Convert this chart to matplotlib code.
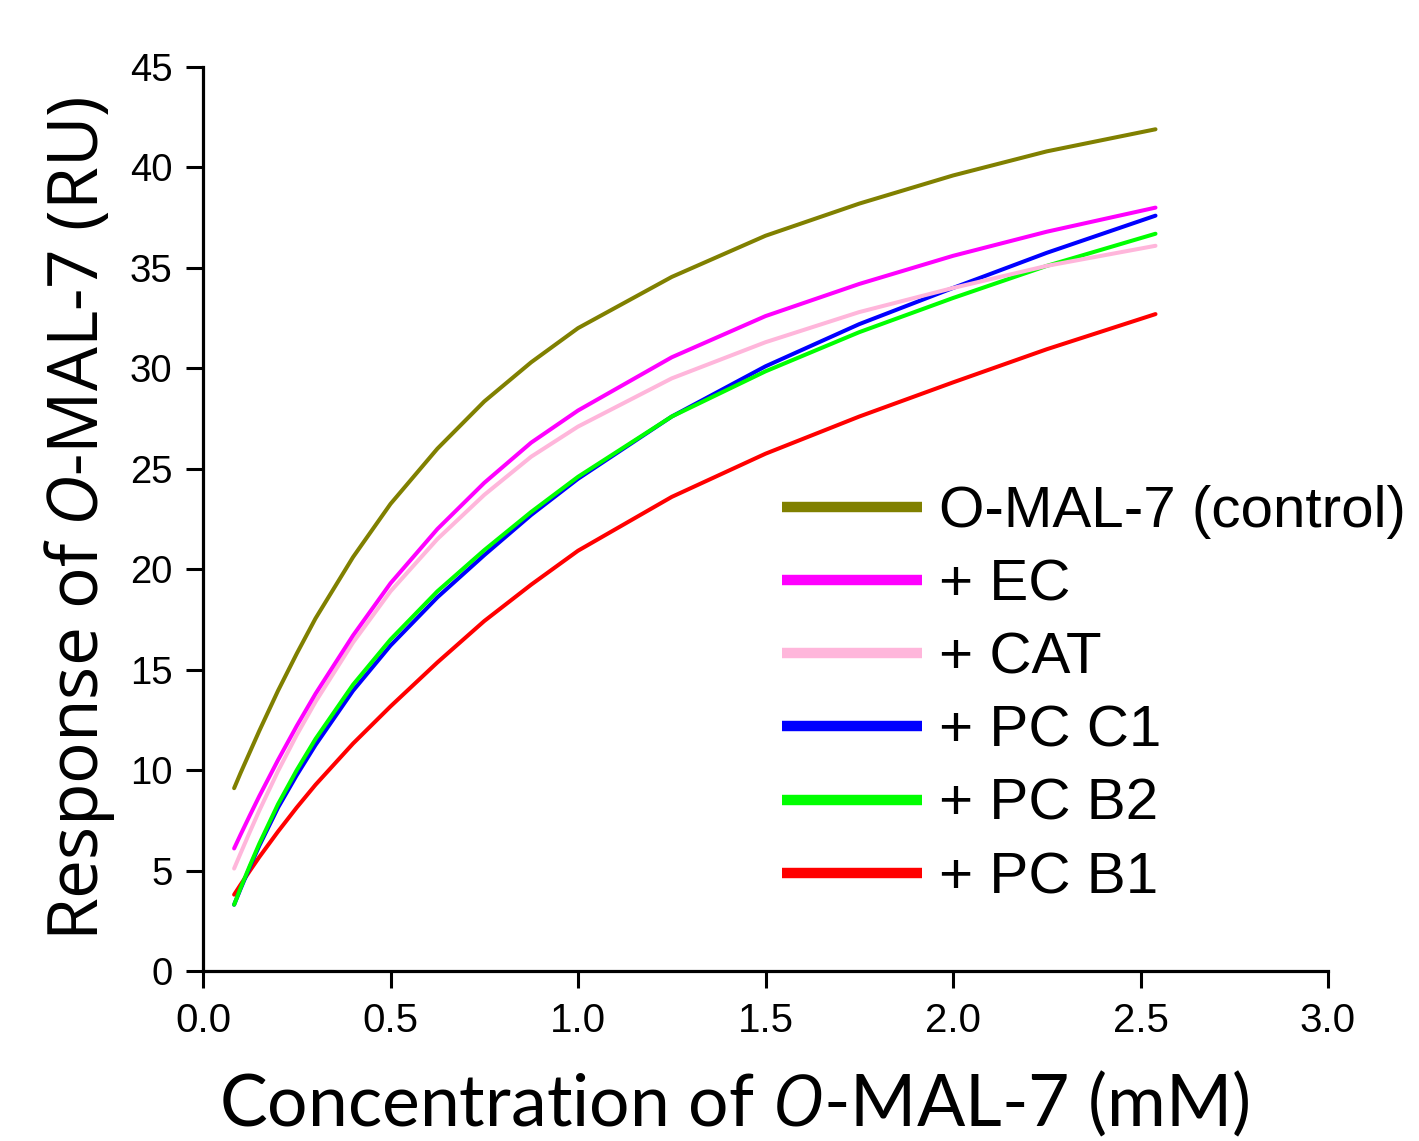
import matplotlib
matplotlib.use("Agg")
import matplotlib.pyplot as plt

conc = [0.083, 0.1, 0.125, 0.15, 0.2, 0.25, 0.3, 0.4, 0.5, 0.625,
        0.75, 0.875, 1.0, 1.25, 1.5, 1.75, 2.0, 2.25, 2.54]

control = [9.1, 9.85, 10.9, 11.95, 13.95, 15.8, 17.55, 20.6, 23.25, 26.0,
           28.35, 30.3, 32.0, 34.55, 36.6, 38.2, 39.6, 40.8, 41.9]
ec = [6.1, 6.78, 7.75, 8.7, 10.5, 12.2, 13.8, 16.7, 19.3, 22.0,
      24.3, 26.3, 27.9, 30.55, 32.6, 34.2, 35.6, 36.8, 38.0]
cat = [5.1, 5.85, 6.93, 7.98, 9.95, 11.75, 13.4, 16.35, 18.9, 21.5,
       23.7, 25.6, 27.1, 29.5, 31.3, 32.8, 34.0, 35.1, 36.1]
pc_c1 = [3.3, 4.08, 5.18, 6.23, 8.13, 9.75, 11.25, 13.95, 16.2, 18.6,
         20.7, 22.7, 24.5, 27.6, 30.1, 32.2, 34.0, 35.75, 37.6]
pc_b2 = [3.3, 4.12, 5.25, 6.33, 8.3, 10.0, 11.55, 14.25, 16.5, 18.9,
         20.95, 22.85, 24.6, 27.6, 29.85, 31.8, 33.5, 35.1, 36.7]
pc_b1 = [3.8, 4.29, 4.99, 5.67, 6.94, 8.14, 9.27, 11.32, 13.17, 15.36,
         17.42, 19.23, 20.92, 23.6, 25.75, 27.6, 29.3, 30.95, 32.7]

labels = ["O-MAL-7 (control)", "+ EC", "+ CAT", "+ PC C1", "+ PC B2", "+ PC B1"]
colors = ["#808000", "#FF00FF", "#FFB6DB", "#0000FF", "#00FF00", "#FF0000"]
zorders = [6, 5, 4, 2, 3, 1]

x_ticks = [0.0, 0.5, 1.0, 1.5, 2.0, 2.5, 3.0]
y_ticks = [0, 5, 10, 15, 20, 25, 30, 35, 40, 45]

plt.rcParams['mathtext.fontset'] = 'custom'
plt.rcParams['mathtext.it'] = 'Open Sans:italic'
plt.rcParams['mathtext.rm'] = 'Open Sans'

fig = plt.figure(figsize=(14.19, 11.41), dpi=100)
ax = fig.add_axes([203/1419, 1 - 971/1141, 1125/1419, 904/1141])

series = [control, ec, cat, pc_c1, pc_b2, pc_b1]
for vals, lab, col, z in zip(series, labels, colors, zorders):
    ax.plot(conc, vals, color=col, lw=2.9, label=lab, zorder=z,
            solid_capstyle='round', solid_joinstyle='round')

ax.set_xlim(0, 3.0)
ax.set_ylim(0, 45)
ax.set_xticks(x_ticks)
ax.set_yticks(y_ticks)
ax.set_xticklabels([f"{v:.1f}" for v in x_ticks],
                   fontfamily=['Liberation Sans Narrow', 'Liberation Sans'], fontsize=29)
ax.set_yticklabels([str(v) for v in y_ticks], fontfamily='Liberation Sans', fontsize=27.5)

for s in ['top', 'right']:
    ax.spines[s].set_visible(False)
for s in ['left', 'bottom']:
    ax.spines[s].set_linewidth(2.3)
ax.tick_params(axis='both', direction='out', length=12, width=2.2)
ax.tick_params(axis='y', pad=10)
ax.tick_params(axis='x', pad=10)

ax.set_ylabel(r"Response of $\it{O}$-MAL-7 (RU)", fontfamily='Open Sans', fontsize=50, labelpad=9)
ax.set_xlabel(r"Concentration of $\it{O}$-MAL-7 (mM)", fontfamily='Lato', fontsize=51.5, labelpad=21)
ax.xaxis.label.set_x((734 - 203) / 1125)

leg = ax.legend(loc='upper left', bbox_to_anchor=(782/1419, 1 - 485/1141),
                bbox_transform=fig.transFigure, frameon=False, borderpad=0,
                borderaxespad=0, handlelength=2.4, handletextpad=0.3,
                labelspacing=0.33, prop={'family': 'Liberation Sans', 'size': 42})
for line in leg.get_lines():
    line.set_linewidth(7.5)
    line.set_solid_capstyle('butt')

fig.savefig("out.png", dpi=100)
